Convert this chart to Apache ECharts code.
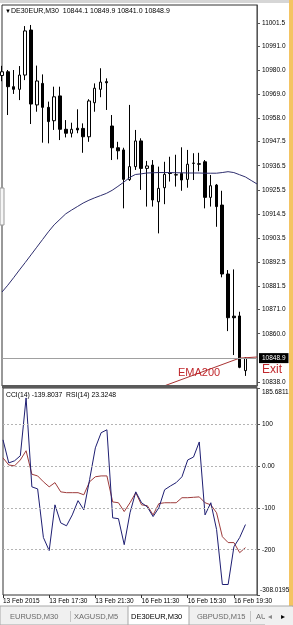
<!DOCTYPE html>
<html><head><meta charset="utf-8">
<script src="https://cdn.jsdelivr.net/npm/echarts@6/dist/echarts.min.js"></script>
<style>html,body{margin:0;padding:0;background:#fff;}#c{width:293px;height:625px;}</style>
</head><body><div id="c"></div><script>
// ---------------- data ----------------
const times = [
 '13 Feb 13:30','13 Feb 14:00','13 Feb 14:30','13 Feb 15:00','13 Feb 15:30','13 Feb 16:00','13 Feb 16:30','13 Feb 17:00',
 '13 Feb 17:30','13 Feb 18:00','13 Feb 18:30','13 Feb 19:00','13 Feb 19:30','13 Feb 20:00','13 Feb 20:30','13 Feb 21:00',
 '13 Feb 21:30','13 Feb 22:00','13 Feb 22:30',
 '16 Feb 09:00','16 Feb 09:30','16 Feb 10:00','16 Feb 10:30','16 Feb 11:00','16 Feb 11:30','16 Feb 12:00','16 Feb 12:30',
 '16 Feb 13:00','16 Feb 13:30','16 Feb 14:00','16 Feb 14:30','16 Feb 15:00','16 Feb 15:30','16 Feb 16:00','16 Feb 16:30',
 '16 Feb 17:00','16 Feb 17:30','16 Feb 18:00','16 Feb 18:30','16 Feb 19:00','16 Feb 19:30','16 Feb 20:00','16 Feb 20:30',
 '16 Feb 21:00','16 Feb 21:30'
];
// [open, close, low, high]
const ohlc = [
 [10977.6,10979.3,10975.0,10982.0],
 [10979.3,10972.5,10959.6,10980.1],
 [10972.5,10971.3,10969.2,10980.1],
 [10971.3,10977.8,10966.4,10981.9],
 [10977.8,10997.9,10975.5,11000.1],
 [10998.3,10964.6,10955.5,11000.6],
 [10964.2,10975.1,10961.1,10982.1],
 [10974.0,10963.1,10947.0,10978.1],
 [10963.1,10956.6,10946.7,10965.7],
 [10957.0,10967.9,10952.8,10972.5],
 [10968.3,10953.1,10948.2,10972.5],
 [10953.1,10951.3,10949.4,10957.3],
 [10951.3,10953.1,10949.4,10956.1],
 [10953.6,10952.8,10951.3,10962.2],
 [10953.5,10949.7,10942.4,10955.8],
 [10949.7,10966.0,10947.4,10966.8],
 [10965.2,10971.8,10961.1,10974.0],
 [10971.3,10974.6,10967.7,10980.9],
 [10974.8,10974.3,10961.9,10976.3],
 [10954.6,10944.7,10939.1,10959.6],
 [10944.7,10943.3,10939.4,10947.4],
 [10943.7,10930.3,10917.1,10944.7],
 [10930.2,10936.1,10929.6,10964.2],
 [10936.1,10947.8,10934.6,10952.8],
 [10947.8,10935.3,10925.5,10949.0],
 [10935.3,10936.4,10917.9,10938.7],
 [10936.8,10920.9,10917.9,10939.1],
 [10920.1,10926.2,10905.7,10936.1],
 [10926.5,10932.6,10919.0,10938.3],
 [10933.2,10933.0,10929.3,10940.6],
 [10932.4,10932.3,10927.0,10941.5],
 [10933.0,10930.0,10925.1,10944.9],
 [10930.3,10937.2,10926.5,10943.7],
 [10937.7,10937.6,10930.0,10942.2],
 [10937.4,10937.2,10934.0,10942.4],
 [10938.3,10922.1,10917.1,10939.1],
 [10922.1,10927.4,10917.9,10932.3],
 [10927.7,10917.9,10908.7,10928.2],
 [10918.6,10887.2,10885.7,10925.1],
 [10887.2,10867.3,10861.2,10889.0],
 [10868.0,10867.3,10850.3,10889.3],
 [10868.1,10844.7,10844.3,10870.0],
 [10843.2,10848.9,10840.8,10849.3]
];
const ema200 = [
 10879.0,10882.1,10885.5,10889.0,10892.4,10895.9,10899.4,10902.9,10906.4,10909.6,10912.1,10914.6,10916.3,10917.9,10919.5,
 10920.8,10921.9,10922.9,10923.9,10925.3,10927.1,10929.0,10931.1,10932.5,10932.8,10933.2,10933.3,10933.4,10933.4,10933.4,
 10933.3,10933.3,10933.2,10933.2,10933.2,10933.1,10933.1,10933.1,10933.4,10933.8,10933.4,10932.4,10931.4,10929.8,10928.2
];
const cci14 = [
 62,7,12,24,162,-50,-55,-171,-202,-93,-136,-143,-117,-83,-105,-33,43,79,86,-124,-126,-188,-112,-62,-88,-98,-121,-100,
 -57,-48,-40,-26,14,21,57,-117,-88,-152,-283,-283,-193,-171,-140
];
const rsi14 = [
 19,2,0,14,36,-20,-24,-38,-50,-40,-62,-64,-64,-64,-69,-38,-26,-24,-24,-86,-88,-109,-88,-64,-93,-95,-117,-90,
 -88,-88,-88,-76,-76,-75,-74,-88,-93,-112,-169,-183,-183,-207,-195
];
const trendLine = [[26,10834.3],[41,10848.9],[44,10849.4]];
const bid = 10848.9;
const priceTicks = [11001.5,10991.0,10980.0,10969.0,10958.0,10947.5,10936.5,10925.5,10914.5,10903.5,10892.5,10881.5,10871.0,10860.0,10838.0];
const cciMax = 185.6811, cciMin = -308.0195;
const cciTicks = [100,0,-100,-200];
const cciTickLabels = ['100','0.00','-100','-200'];
const cciLevels = [100,0,-100,-200];
const xTickIdx = [0,8,16,24,32,40];
const xTickLabels = ['13 Feb 2015','13 Feb 17:30','13 Feb 21:30','16 Feb 11:30','16 Feb 15:30','16 Feb 19:30'];
const headerText = 'DE30EUR,M30  10844.1 10849.9 10841.0 10848.9';
const indText = 'CCI(14) -139.8037  RSI(14) 23.3248';
const tabs = ['EURUSD,M30','XAGUSD,M5','DE30EUR,M30','GBPUSD,M15','AUDUSD,M30'];

// ---------------- chart ----------------
const FONT = '"Liberation Sans", Arial, sans-serif';
const AX = 6.5;
const chart = echarts.init(document.getElementById('c'), null, {renderer:'canvas'});
const showIdx = (i) => xTickIdx.indexOf(i) >= 0;
const baseGraphic = [
    {type:'rect', shape:{x:0,y:0,width:293,height:3}, style:{fill:'#d6d6d6'}, z:10},
    {type:'rect', shape:{x:289,y:0,width:4,height:606}, style:{fill:'#f4c462'}, z:10},
    {type:'rect', shape:{x:2,y:385,width:255,height:3}, style:{fill:'#5a5a5a'}, z:10},
    {type:'rect', shape:{x:0,y:188,width:4,height:37}, style:{fill:'#f6f6f6', stroke:'#9a9a9a', lineWidth:1}, z:10},
    {type:'text', style:{text:'\u25BC', x:5, y:11, font:'6px '+FONT, fill:'#000', verticalAlign:'middle'}, z:10},
    {type:'text', style:{text:headerText, x:11, y:11, font:'7px '+FONT, fill:'#000', verticalAlign:'middle'}, z:10},
    {type:'text', style:{text:indText, x:6, y:395, font:'6.8px '+FONT, fill:'#000', verticalAlign:'middle'}, z:10},
    {type:'text', style:{text:'EMA200', x:178, y:373, font:'11px '+FONT, fill:'#c0282d', verticalAlign:'middle'}, z:10},
    {type:'text', style:{text:'Exit', x:262, y:370, font:'12px '+FONT, fill:'#c0282d', verticalAlign:'middle'}, z:10},
    // tab bar
    {type:'rect', shape:{x:0,y:606,width:293,height:19}, style:{fill:'#f0f0f0', stroke:'#a8a8a8', lineWidth:1}, z:10},
    {type:'text', style:{text:tabs[0], x:10, y:617, font:'7.5px '+FONT, fill:'#6a6a6a', verticalAlign:'middle'}, z:11},
    {type:'rect', shape:{x:70,y:611,width:0.5,height:11}, style:{fill:'#9a9a9a'}, z:11},
    {type:'text', style:{text:tabs[1], x:74, y:617, font:'7.5px '+FONT, fill:'#6a6a6a', verticalAlign:'middle'}, z:11},
    {type:'rect', shape:{x:128,y:606,width:61,height:19}, style:{fill:'#fff', stroke:'#a8a8a8', lineWidth:1}, z:11},
    {type:'text', style:{text:tabs[2], x:131, y:617, font:'7.5px '+FONT, fill:'#000', verticalAlign:'middle'}, z:12},
    {type:'text', style:{text:tabs[3], x:197, y:617, font:'7.5px '+FONT, fill:'#6a6a6a', verticalAlign:'middle'}, z:11},
    {type:'rect', shape:{x:250,y:611,width:0.5,height:11}, style:{fill:'#9a9a9a'}, z:11},
    {type:'text', style:{text:tabs[4], x:256, y:617, font:'7.5px '+FONT, fill:'#6a6a6a', verticalAlign:'middle'}, z:11},
    {type:'rect', shape:{x:265,y:607,width:28,height:18}, style:{fill:'#f0f0f0'}, z:12},
    {type:'text', style:{text:'\u25C2', x:268, y:617, font:'8px '+FONT, fill:'#8a8a8a', verticalAlign:'middle'}, z:13},
    {type:'text', style:{text:'\u25B8', x:281, y:617, font:'8px '+FONT, fill:'#000', verticalAlign:'middle'}, z:13}
];
const option = {
  animation:false,
  backgroundColor:'#fff',
  textStyle:{fontFamily:FONT},
  grid:[
    {left:2, right:36, top:5, height:381, show:true, borderColor:'#333', borderWidth:1, backgroundColor:'#fff'},
    {left:2, right:36, top:388, height:207, show:true, borderColor:'#333', borderWidth:1, backgroundColor:'#fff'}
  ],
  xAxis:[
    {gridIndex:0, type:'category', data:times, boundaryGap:false, axisLine:{show:false, onZero:false}, axisTick:{show:false}, axisLabel:{show:false}, splitLine:{show:false}},
    {gridIndex:1, type:'category', data:times, boundaryGap:false, position:'bottom', axisLine:{show:false, onZero:false},
     axisTick:{show:true, interval:(i)=>showIdx(i), length:3, lineStyle:{color:'#333'}},
     axisLabel:{show:true, interval:(i)=>showIdx(i), formatter:(v,i)=>xTickLabels[xTickIdx.indexOf(i)], align:'left', fontSize:AX, color:'#000', margin:3, fontFamily:FONT},
     splitLine:{show:false}}
  ],
  yAxis:[
    {gridIndex:0, type:'value', position:'right', min:10836.2, max:11009.7, scale:true,
     axisLine:{show:true, lineStyle:{color:'#555'}},
     axisTick:{show:true, length:3, customValues:priceTicks, lineStyle:{color:'#555'}},
     axisLabel:{customValues:priceTicks, formatter:(v)=>v.toFixed(1), fontSize:AX, color:'#000', margin:5, fontFamily:FONT},
     splitLine:{show:false}},
    {gridIndex:1, type:'value', position:'right', min:cciMin, max:cciMax,
     axisLine:{show:true, lineStyle:{color:'#555'}},
     axisTick:{show:true, length:3, customValues:cciTicks.concat([cciMax,cciMin]), lineStyle:{color:'#555'}},
     axisLabel:{customValues:cciTicks, formatter:(v)=>cciTickLabels[cciTicks.indexOf(v)], fontSize:AX, color:'#000', margin:5, fontFamily:FONT},
     splitLine:{show:false}}
  ],
  series:[
    {type:'candlestick', xAxisIndex:0, yAxisIndex:0, data:ohlc, barWidth:3, clip:true,
     itemStyle:{color:'#fff', color0:'#000', borderColor:'#000', borderColor0:'#000', borderWidth:1},
     markLine:{silent:true, symbol:'none', animation:false, data:[{yAxis:bid}],
       lineStyle:{color:'#a0a0a0', type:'solid', width:1},
       label:{show:true, position:'end', formatter:bid.toFixed(1), backgroundColor:'#000', color:'#fff', fontSize:AX, padding:[2,3,1,3], distance:2, fontFamily:FONT}},
     z:3},
    {type:'line', xAxisIndex:0, yAxisIndex:0, data:ema200, symbol:'none', lineStyle:{color:'#2e2e6e', width:1}, clip:true, z:4},
    {type:'line', xAxisIndex:0, yAxisIndex:0, data:trendLine, symbol:'none', lineStyle:{color:'#a83232', width:1}, clip:true, z:4},
    {type:'line', xAxisIndex:1, yAxisIndex:1, data:rsi14, symbol:'none', lineStyle:{color:'#9e3b3b', width:1}, clip:true, z:3,
     markLine:{silent:true, symbol:'none', animation:false, data:cciLevels.map(v=>({yAxis:v})), lineStyle:{color:'#b4b4b4', type:[2,2], width:1}, label:{show:false}}},
    {type:'line', xAxisIndex:1, yAxisIndex:1, data:cci14, symbol:'none', lineStyle:{color:'#1e1e72', width:1}, clip:true, z:4}
  ],
  graphic: baseGraphic
};
chart.setOption(option);
// extreme-value labels of the indicator scale, placed just inside the pane like the terminal does
const yTop = chart.convertToPixel({yAxisIndex:1}, cciMax);
const yBot = chart.convertToPixel({yAxisIndex:1}, cciMin);
chart.setOption({graphic: baseGraphic.concat([
  {type:'text', style:{text:cciMax.toFixed(4), x:262, y:yTop+4.5, font:AX+'px '+FONT, fill:'#000', verticalAlign:'middle'}, z:14},
  {type:'text', style:{text:cciMin.toFixed(4), x:260, y:yBot-4.5, font:AX+'px '+FONT, fill:'#000', verticalAlign:'middle'}, z:14}
])});
</script></body></html>
